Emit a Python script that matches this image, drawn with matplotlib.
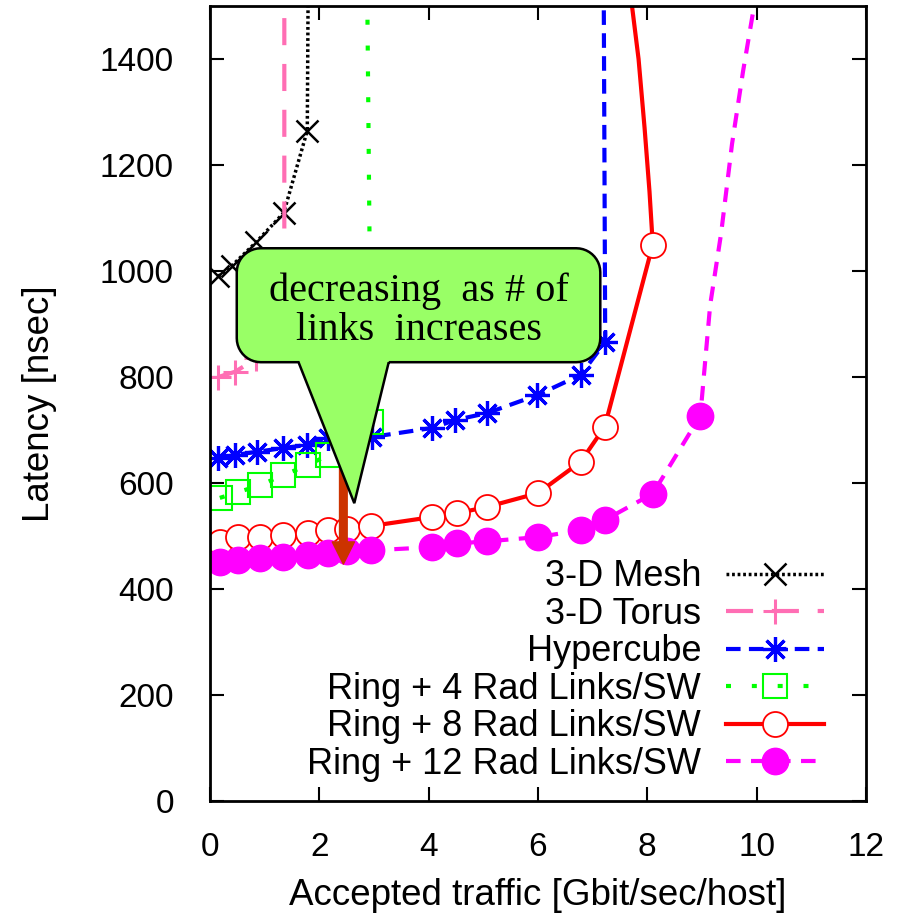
import numpy as np
import matplotlib
matplotlib.use("Agg")
import matplotlib.pyplot as plt
from matplotlib.path import Path
from matplotlib.patches import PathPatch
from matplotlib.transforms import IdentityTransform

plt.rcParams['font.family'] = ['Liberation Sans', 'DejaVu Sans']

# --- dados ---
mesh_x = [0.15, 0.4, 0.85, 1.35, 1.78, 1.8]
mesh_y = [990, 1010, 1055, 1110, 1265, 1600]

torus_x = [0.15, 0.46, 0.85, 1.3, 1.36, 1.36]
torus_y = [800, 810, 835, 880, 1000, 1600]

hyper_x = [0.15, 0.46, 0.86, 1.34, 1.78, 2.16, 2.5, 2.97, 4.07, 4.49, 5.07, 5.99, 6.78, 7.23, 7.2]
hyper_y = [647, 653, 659, 666, 672, 685, 690, 687, 704, 719, 732, 766, 804, 866, 1600]

ring4_x = [0.18, 0.52, 0.92, 1.34, 1.8, 2.16, 2.5, 2.95, 2.87]
ring4_y = [572, 583, 596, 615, 634, 653, 680, 715, 1600]

ring8_x = [0.18, 0.51, 0.92, 1.34, 1.8, 2.16, 2.5, 2.95, 4.07, 4.52, 5.07, 6.0, 6.78, 7.22, 8.1,
           8.04, 7.95, 7.84, 7.72, 7.65]
ring8_y = [489, 498, 498, 502, 506, 511, 514, 519, 536, 543, 555, 581, 640, 706, 1050,
           1150, 1270, 1400, 1500, 1560]
ring8_marks = 15  # pontos com marcador

ring12_x = [0.18, 0.51, 0.92, 1.34, 1.8, 2.16, 2.5, 2.95, 4.07, 4.52, 5.07, 6.0, 6.78, 7.22, 8.1, 8.97,
            9.15, 9.35, 9.55, 9.75, 9.95, 10.05]
ring12_y = [451, 455, 458, 460, 464, 468, 471, 473, 479, 486, 490, 498, 511, 530, 580, 727,
            936, 1071, 1240, 1376, 1498, 1560]
ring12_marks = 16

labels = ['3-D Mesh', '3-D Torus', 'Hypercube', 'Ring + 4 Rad Links/SW',
          'Ring + 8 Rad Links/SW', 'Ring + 12 Rad Links/SW']

fig = plt.figure(figsize=(9, 9.16), dpi=100)
ax = fig.add_axes([0.2333, 0.1255, 0.7289, 0.8679])

ax.plot(mesh_x, mesh_y, color='black', lw=2.5, ls=(0, (0.8, 0.8)), marker='x',
        ms=16, mew=1.8, markevery=list(range(5)), label=labels[0])
ax.plot(torus_x, torus_y, color='#ff6eb4', lw=3, ls=(0, (6.5, 4.5)), marker='+',
        ms=18, mew=2.2, markevery=list(range(4)), label=labels[1])
ax.plot(hyper_x, hyper_y, color='#0000ff', lw=3, ls=(0, (3.5, 2)), marker=(8, 2, 0),
        ms=18, mew=2.3, markevery=list(range(14)), label=labels[2])
ax.plot(ring4_x, ring4_y, color='#00ff00', lw=3, ls=(0, (1.2, 5)), marker='s',
        ms=17, mew=1.5, mfc='none', markevery=list(range(8)), label=labels[3])
ax.plot(ring8_x, ring8_y, color='#ff0000', lw=3, ls='-', marker='o',
        ms=18, mew=1.3, mfc='white', markevery=list(range(ring8_marks)), label=labels[4])
ax.plot(ring12_x, ring12_y, color='#ff00ff', lw=3, ls=(0, (3.5, 2.5)), marker='o',
        ms=19, mew=1, markevery=list(range(ring12_marks)), label=labels[5])

ax.set_xlim(0, 12)
ax.set_ylim(0, 1500)
ax.set_xticks(range(0, 13, 2))
ax.set_yticks(range(0, 1401, 200))
ax.tick_params(direction='in', length=10, width=1.5, top=True, right=True, labelsize=24)
ax.tick_params(axis='y', pad=26)
ax.tick_params(axis='x', pad=22)
for s in ax.spines.values():
    s.set_linewidth(2)
ax.set_xlabel('Accepted traffic [Gbit/sec/host]', fontsize=26.5, labelpad=11)
ax.set_ylabel('Latency [nsec]', fontsize=26.5, labelpad=31)

leg = ax.legend(loc='lower right', bbox_to_anchor=(0.965, 0.0), frameon=False,
                markerfirst=False, fontsize=26, handlelength=2.7, handletextpad=0.7,
                labelspacing=0.07, borderaxespad=0.13)
leg.set_zorder(6)

# seta vermelha
ax.annotate('', xy=(2.44, 447), xytext=(2.44, 660),
            arrowprops=dict(facecolor='#cc3300', edgecolor='#cc3300', width=5.5,
                            headwidth=16, headlength=16, shrink=0), zorder=7)

# balão com ponteiro (em pixels)
fig.canvas.draw()
T = ax.transData.transform
x0, y0 = T((0.49, 828))
x1, y1 = T((7.14, 1043))
b0 = T((1.62, 828))[0]
b1 = T((3.27, 828))[0]
tip = T((2.64, 562))
r = 24

def arc(cx, cy, a0, a1):
    t = np.radians(np.linspace(a0, a1, 12))
    return [(cx + r * np.cos(a), cy + r * np.sin(a)) for a in t]

pts = [(b1, y0)]
pts += arc(x1 - r, y0 + r, 270, 360)
pts += arc(x1 - r, y1 - r, 0, 90)
pts += arc(x0 + r, y1 - r, 90, 180)
pts += arc(x0 + r, y0 + r, 180, 270)
pts += [(b0, y0), tuple(tip), (b1, y0)]
callout = PathPatch(Path(pts, closed=False), facecolor='#99ff66', edgecolor='black',
                    lw=1.8, transform=IdentityTransform(), zorder=8, clip_on=False)
ax.add_artist(callout)
ax.text(3.83, 925, 'decreasing  as # of\nlinks  increases', ha='center', va='center',
        fontsize=29, family=['Liberation Serif', 'DejaVu Serif'], linespacing=1.1, zorder=9)

fig.savefig('out.png', dpi=100)
